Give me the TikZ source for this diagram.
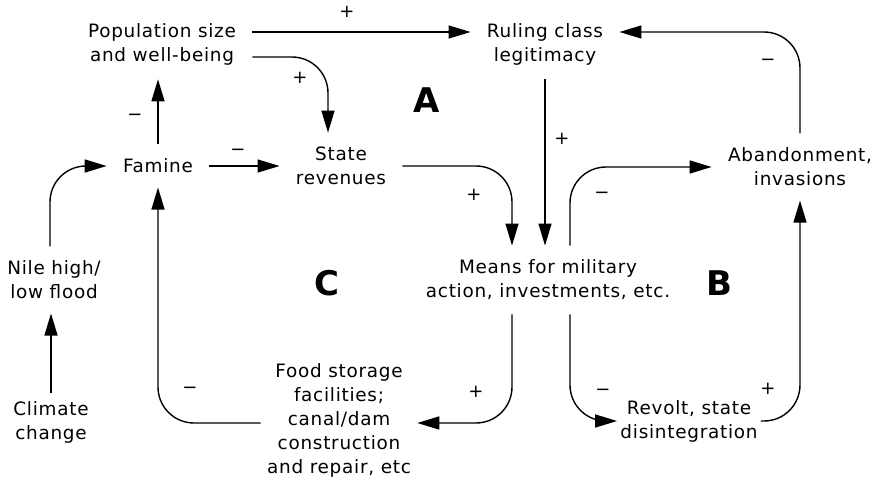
\documentclass[tikz,border=0pt]{standalone}
\usepackage{fontspec}
\setmainfont{DejaVu Sans}[LetterSpace=4]
\usetikzlibrary{positioning, arrows.meta}

\newcommand{\neglink}{\char"2212}

\begin{document}
\begin{tikzpicture}[
    x=0.5pt, y=-0.5pt,
    >={Triangle[length=11pt, width=6.5pt]},
    factor/.style={align=center, font=\fontsize{9.2}{12}\selectfont, inner xsep=8pt, inner ysep=7pt},
    sign/.style={font=\fontsize{9}{12}\selectfont, inner sep=0pt},
    loopname/.style={font=\fontsize{17}{17}\selectfont\bfseries, inner sep=0pt},
    link/.style={->, draw=black, line width=0.7pt, rounded corners=18pt}
]

\useasboundingbox (0,0) rectangle (874,482);

% Factors of the model
\node[factor] (pop) at (162,44) {Population size\\and well-being};
\node[factor] (rcl) at (545,44) {Ruling class\\legitimacy};
\node[factor] (fam) at (158,166) {Famine};
\node[factor] (sr) at (341,166) {State\\revenues};
\node[factor] (aband) at (800,167) {Abandonment,\\invasions};
\node[factor] (means) at (548,280) {Means for military\\action, investments, etc.};
\node[factor] (nile) at (54,280) {Nile high/\\low flood};
\node[factor] (clim) at (51,422) {Climate\\change};
\node[factor, inner xsep=3pt] (food) at (339,420) {Food storage\\facilities;\\canal/dam\\construction\\and repair, etc};
\node[factor, inner xsep=1.5pt] (revolt) at (689,421) {Revolt, state\\disintegration};

% Loop names
\node[loopname] (loopA) at (427,100) {A};
\node[loopname] (loopB) at (719,283) {B};
\node[loopname] (loopC) at (327,283) {C};

% Causal links
\draw[link] ([yshift=6pt]pop.east) -- ([yshift=6pt]rcl.west);
\draw[link] ([yshift=-6.5pt]pop.east) -| ([xshift=-6.5pt]sr.north);
\draw[link] (fam.north) -- (fam.north |- pop.south);
\draw[link] (fam) -- (sr);
\draw[link] ([xshift=-2pt]nile.north) |- (fam.west);
\draw[link] ([yshift=-1.5pt]food.west) -| (fam.south);
\draw[link] ([yshift=-3pt]clim.north) -- (clim.north |- nile.south);
\draw[link] (sr.east) -| ([xshift=-18pt]means.north);
\draw[link] (rcl.south) -- (rcl.south |- means.north);
\draw[link] ([xshift=11pt]means.north) |- (aband.west);
\draw[link] (aband.north) |- ([yshift=6pt]rcl.east);
\draw[link] (revolt.east) -| (aband.south);
\draw[link] ([xshift=-18pt]means.south) |- ([yshift=-1.5pt]food.east);
\draw[link] ([xshift=11pt]means.south) |- (revolt.west);

% Signs of the links
\node[sign] (s-pop-rcl) at (347,12) {+};
\node[sign] (s-pop-sr) at (300,78) {+};
\node[sign] (s-fam-pop) at (135,117) {\neglink};
\node[sign] (s-fam-sr) at (238,152) {\neglink};
\node[sign] (s-food-fam) at (190,390) {\neglink};
\node[sign] (s-sr-means) at (474,195) {+};
\node[sign] (s-rcl-means) at (562,139) {+};
\node[sign] (s-means-aband) at (602,195) {\neglink};
\node[sign] (s-aband-rcl) at (768,62) {\neglink};
\node[sign] (s-revolt-aband) at (768,389) {+};
\node[sign] (s-means-food) at (476,392) {+};
\node[sign] (s-means-revolt) at (603,392) {\neglink};

\end{tikzpicture}
\end{document}
